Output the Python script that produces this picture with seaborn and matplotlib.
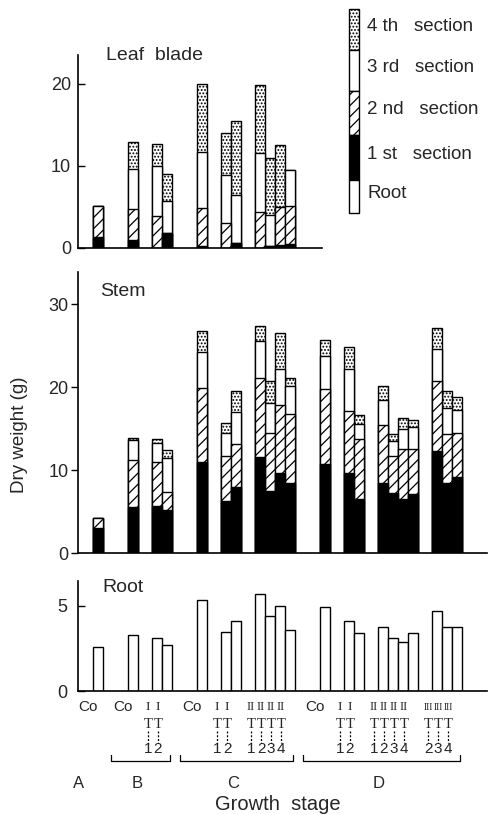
"""Dry weight of leaf blade, stem and root by section across growth stages."""

import matplotlib
matplotlib.use("Agg")
import matplotlib.pyplot as plt
import matplotlib.transforms as mtransforms
import numpy as np
import seaborn as sns
from matplotlib import patches
from matplotlib.lines import Line2D

# ---- data ---------------------------------------------------------------
STAGE = ["A",
         "B", "B", "B",
         "C", "C", "C", "C", "C", "C", "C",
         "D", "D", "D", "D", "D", "D", "D", "D", "D", "D"]
GROUP = ["Co",
         "Co", "I", "I",
         "Co", "I", "I", "II", "II", "II", "II",
         "Co", "I", "I", "II", "II", "II", "II", "III", "III", "III"]
NUMBER = ["",
          "", "1", "2",
          "", "1", "2", "1", "2", "3", "4",
          "", "1", "2", "1", "2", "3", "4", "2", "3", "4"]

# leaf blade: only stages A-C were measured (first 11 bars)
LEAF_1ST = [1.3, 1.0, 0.0, 1.8, 0.3, 0.0, 0.6, 0.0, 0.2, 0.4, 0.5]
LEAF_2ND = [3.8, 3.7, 3.9, 0.0, 4.6, 3.0, 0.0, 4.4, 0.0, 4.6, 4.6]
LEAF_3RD = [0.0, 4.9, 6.1, 3.9, 6.8, 5.9, 5.9, 7.2, 3.8, 0.0, 4.4]
LEAF_4TH = [0.0, 3.3, 2.7, 3.3, 8.3, 5.1, 9.0, 8.3, 7.0, 7.5, 0.0]

STEM_1ST = [3.0, 5.5, 5.7, 5.2, 11.0, 6.3, 8.0, 11.6, 7.5, 9.6, 8.4,
            10.7, 9.6, 6.5, 8.4, 7.2, 6.5, 7.1, 12.3, 8.5, 9.2]
STEM_2ND = [1.2, 5.7, 5.3, 2.1, 8.9, 5.4, 5.2, 9.5, 7.0, 8.2, 8.4,
            9.1, 7.5, 7.2, 7.1, 4.5, 6.1, 5.5, 8.4, 5.9, 5.3]
STEM_3RD = [0.0, 2.4, 2.3, 4.2, 4.3, 2.8, 3.8, 4.5, 3.6, 4.4, 3.3,
            4.0, 5.1, 1.9, 2.9, 1.8, 2.4, 2.6, 3.9, 3.1, 2.7]
STEM_4TH = [0.0, 0.3, 0.4, 0.9, 2.6, 1.2, 2.6, 1.8, 2.7, 4.3, 1.0,
            1.9, 2.6, 1.1, 1.7, 0.8, 1.3, 0.8, 2.5, 2.1, 1.6]

ROOT = [2.6, 3.3, 3.1, 2.7, 5.35, 3.45, 4.1, 5.7, 4.4, 5.0, 3.6,
        4.9, 4.1, 3.4, 3.75, 3.1, 2.9, 3.4, 4.7, 3.75, 3.75]

LEGEND_LABELS = ["4 th   section", "3 rd   section", "2 nd   section",
                 "1 st   section", "Root"]

# roman numeral label size per treatment group (III must fit one bar width)
ROMAN_SIZE = {"I": 9.5, "II": 9.0, "III": 7.0}

# section styles, bottom to top: (face, hatch)
SECTION_STYLE = [("black", ""), ("white", "///"), ("white", ""), ("white", ".....")]

W, H = 490, 815
FONT = ["Liberation Sans", "DejaVu Sans"]


def bar_positions(stages, groups, start=9.8):
    """Bars touch inside a treatment group; wider gaps between groups/stages."""
    pos, x = [], start
    for i, (s, g) in enumerate(zip(stages, groups)):
        if i > 0:
            if s != stages[i - 1]:
                x += 3.5
            elif g != groups[i - 1]:
                x += 2.4
            else:
                x += 1.0
        pos.append(round(x, 2))
    return pos


def stacked(ax, x, layers):
    """Stacked bars drawn top-down with seaborn so lower sections overlay."""
    tops = np.cumsum(np.array(layers, dtype=float), axis=0)
    for k in range(len(layers) - 1, -1, -1):
        face, hatch = SECTION_STYLE[k]
        sns.barplot(x=x, y=tops[k], native_scale=True, orient="x", width=1.0,
                    color=face, saturation=1, edgecolor="black", linewidth=1.0,
                    hatch=hatch, errorbar=None, ax=ax)


def fy(px):
    return 1 - px / H


sns.set_theme(style="ticks")
plt.rcParams["font.family"] = FONT
plt.rcParams["hatch.linewidth"] = 0.9

fig = plt.figure(figsize=(W / 100, H / 100), dpi=100)
ax_leaf = fig.add_axes([78 / W, fy(248), 409 / W, 193 / H])
ax_stem = fig.add_axes([78 / W, fy(553), 409 / W, 281 / H])
ax_root = fig.add_axes([78 / W, fy(691), 409 / W, 110 / H])

pos = bar_positions(STAGE, GROUP)
n_leaf = len(LEAF_1ST)

stacked(ax_leaf, pos[:n_leaf], [LEAF_1ST, LEAF_2ND, LEAF_3RD, LEAF_4TH])
stacked(ax_stem, pos, [STEM_1ST, STEM_2ND, STEM_3RD, STEM_4TH])
sns.barplot(x=pos, y=ROOT, native_scale=True, orient="x", width=1.0,
            color="white", saturation=1, edgecolor="black", linewidth=1.0,
            errorbar=None, ax=ax_root)

xlim = (7.8, 48.7)
for ax, top, ticks, direction, pad in [
    (ax_leaf, 23.5, [0, 10, 20], "in", 5),
    (ax_stem, 33.9, [0, 10, 20, 30], "out", 2),
    (ax_root, 6.45, [0, 5], "in", 8),
]:
    ax.set_xlim(*xlim)
    ax.set_ylim(0, top)
    ax.set_yticks(ticks)
    ax.set_xticks([])
    ax.set_xlabel("")
    ax.set_ylabel("")
    ax.tick_params(axis="y", direction=direction, length=5, width=1.0,
                   labelsize=13, pad=pad, color="black")
    for side in ("left", "bottom"):
        ax.spines[side].set_linewidth(1.2)
        ax.spines[side].set_color("black")
    ax.patch.set_alpha(0)
sns.despine(fig=fig)
ax_leaf.spines["bottom"].set_bounds(xlim[0], 32.2)

ax_leaf.text(106 / W, fy(55), "Leaf  blade", transform=fig.transFigure,
             fontsize=14, va="center")
ax_stem.text(100 / W, fy(291), "Stem", transform=fig.transFigure,
             fontsize=14, va="center")
ax_root.text(102 / W, fy(587), "Root", transform=fig.transFigure,
             fontsize=14, va="center")
fig.text(20 / W, fy(435), "Dry weight (g)", rotation=90, fontsize=13.5,
         ha="center", va="center")

# ---- treatment labels under the root panel -------------------------------
trans = mtransforms.blended_transform_factory(ax_root.transData, fig.transFigure)
for x, g, n in zip(pos, GROUP, NUMBER):
    if g == "Co":
        ax_root.text(x - 1.0, fy(707), "Co", transform=trans, fontsize=11,
                     ha="center", va="center")
        continue
    lx = x - 0.9
    ax_root.text(lx, fy(707), g, transform=trans, fontsize=ROMAN_SIZE[g],
                 ha="center", va="center", family="Liberation Serif")
    ax_root.text(lx, fy(724), "T", transform=trans, fontsize=10.5,
                 ha="center", va="center", family="Liberation Serif")
    fig.add_artist(Line2D([lx, lx], [fy(731), fy(743)], transform=trans,
                          color="black", lw=0.9, linestyle=(0, (1.6, 1.4))))
    ax_root.text(lx, fy(749), n, transform=trans, fontsize=11,
                 ha="center", va="center")

# stage brackets and letters
stages = list(dict.fromkeys(STAGE))
for s in stages:
    idx = [i for i, v in enumerate(STAGE) if v == s]
    if len(idx) == 1:
        ax_root.text(pos[idx[0]] - 1.9, fy(784), s, transform=trans,
                     fontsize=12, ha="center", va="center")
        continue
    left, right = pos[idx[0]] - 2.2, pos[idx[-1]] + 0.3
    fig.add_artist(Line2D([left, left, right, right],
                          [fy(755), fy(761), fy(761), fy(755)],
                          transform=trans, color="black", lw=0.9))
    ax_root.text((left + right) / 2 - 0.3, fy(784), s, transform=trans,
                 fontsize=12, ha="center", va="center")

ax_root.text(27.8, fy(805), "Growth  stage", transform=trans, fontsize=14.5,
             ha="center", va="center")

# ---- legend column ----------------------------------------------------------
legend_styles = [SECTION_STYLE[3], SECTION_STYLE[2], SECTION_STYLE[1],
                 SECTION_STYLE[0], ("white", "")]
seg_px = [41, 41, 44, 45, 33]
y_top = 9
for label, (face, hatch), h in zip(LEGEND_LABELS, legend_styles, seg_px):
    fig.patches.append(patches.Rectangle(
        (349 / W, fy(y_top + h)), 10 / W, h / H, transform=fig.transFigure,
        facecolor=face, edgecolor="black", hatch=hatch, linewidth=1.0))
    fig.text(367 / W, fy(y_top + h / 2 - 3), label, fontsize=13.5, va="center")
    y_top += h

fig.savefig("out.png", dpi=100)
